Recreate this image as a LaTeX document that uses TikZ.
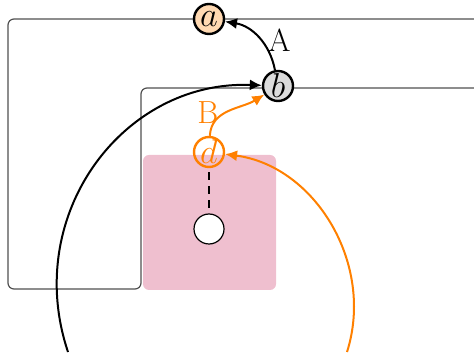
\documentclass[tikz,border=0pt]{standalone}
\usepackage{tikz}
\usetikzlibrary{arrows.meta,positioning}
\definecolor{framegray}{RGB}{80,80,80}

\begin{document}
\begin{tikzpicture}[x=0.5pt, y=-0.5pt,
    state/.style={circle, draw=black, line width=1.2pt, inner sep=0pt, minimum size=15pt,
        font=\fontsize{17}{19}\selectfont},
    lbl/.style={font=\fontsize{16}{18}\selectfont},
    arr/.style={-{Latex[length=6pt,width=5.5pt]}, line width=1pt}]

    \useasboundingbox (0,0) rectangle (474,356);

    % Region
    \node[fill=purple!25, rounded corners=3pt, minimum width=66.5pt, minimum height=67.5pt,
        inner sep=0pt] (box) at (209.5,222.5) {};

    % Frame
    \draw[framegray, line width=0.6pt, rounded corners=3pt]
        (474,19) -- (8,19) -- (8,289) -- (141,289) -- (141,88) -- (474,88);

    % States
    \node[state, fill=orange!30] (a) at (209,19) {$a$};
    \node[state, fill=black!14] (b) at (278,86) {$b$};
    \node[state, draw=orange, text=orange] (d) at (209,152) {$d$};
    \node[circle, draw=black, fill=white, line width=0.6pt, minimum size=15pt] (c) at (209,229) {};

    % Free ends
    \coordinate (s1) at (68,352);
    \coordinate (s2) at (347,352);

    % Connections
    \draw[line width=0.6pt, dash pattern=on 4pt off 3pt, dash phase=-2pt] (d) -- (c);
    \draw[arr] (b) to[bend right=35] node[pos=0.45, right, lbl] (lblA) {A} (a);
    \draw[arr, orange] (d) to[out=87, in=212] node[pos=0.45, left, lbl] (lblB) {B} (b);
    \draw[arr] (s1) .. controls (22,215) and (123,80) .. (b);
    \draw[arr, orange] (s2) .. controls (375,264) and (315,166) .. (d);
\end{tikzpicture}
\end{document}
